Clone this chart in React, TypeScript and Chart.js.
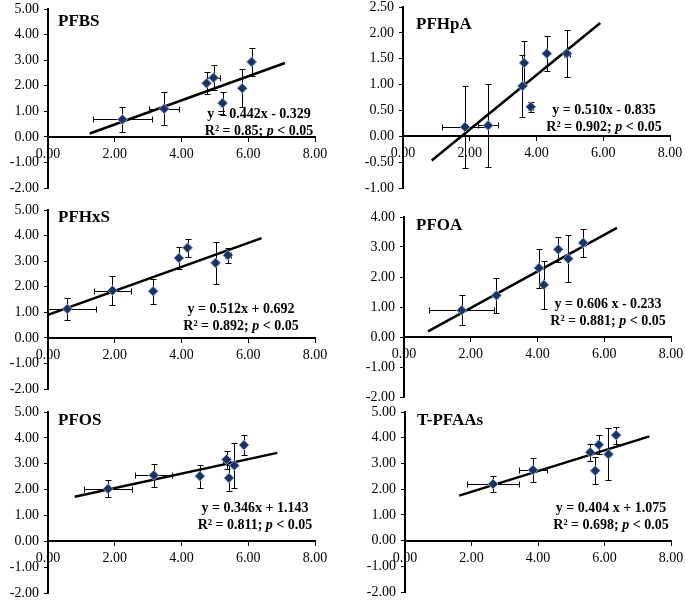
import React, { useEffect, useRef } from 'react';
import { Chart, registerables } from 'chart.js';

Chart.register(...registerables);

// ---------- DATA ----------
// PFBS
const pfbsX = [2.23, 3.48, 4.75, 4.96, 5.23, 5.82, 6.1];
const pfbsY = [0.68, 1.1, 2.1, 2.31, 1.32, 1.9, 2.93];
const pfbsXErr = [0.88, 0.45, 0, 0.2, 0, 0, 0];
const pfbsYErr = [0.5, 0.65, 0.44, 0.49, 0.45, 0.75, 0.55];
const pfbsLineX = [1.25, 7.1];
const pfbsLineY = [0.13, 2.89];

// PFHpA
const pfhpaX = [1.86, 2.55, 3.58, 3.63, 3.83, 4.31, 4.91];
const pfhpaY = [0.18, 0.21, 0.97, 1.42, 0.57, 1.6, 1.6];
const pfhpaXErr = [0.68, 0.3, 0, 0, 0.08, 0, 0.1];
const pfhpaYErr = [0.8, 0.8, 0.6, 0.42, 0.1, 0.33, 0.46];
const pfhpaLineX = [0.86, 5.91];
const pfhpaLineY = [-0.47, 2.19];

// PFHxS
const pfhxsX = [0.58, 1.93, 3.15, 3.92, 4.18, 5.02, 5.39];
const pfhxsY = [1.13, 1.85, 1.82, 3.12, 3.52, 2.93, 3.23];
const pfhxsXErr = [0.87, 0.55, 0, 0, 0, 0, 0.1];
const pfhxsYErr = [0.43, 0.58, 0.5, 0.43, 0.35, 0.83, 0.3];
const pfhxsLineX = [0, 6.4];
const pfhxsLineY = [0.9, 3.9];

// PFOA
const pfoaX = [1.73, 2.77, 4.04, 4.19, 4.62, 4.92, 5.37];
const pfoaY = [0.89, 1.39, 2.3, 1.74, 2.92, 2.61, 3.14];
const pfoaXErr = [0.98, 0.05, 0, 0, 0, 0, 0];
const pfoaYErr = [0.5, 0.59, 0.65, 0.8, 0.42, 0.79, 0.47];
const pfoaLineX = [0.72, 6.38];
const pfoaLineY = [0.19, 3.64];

// PFOS
const pfosX = [1.8, 3.17, 4.55, 5.35, 5.42, 5.58, 5.87];
const pfosY = [2.03, 2.55, 2.52, 3.16, 2.45, 2.93, 3.72];
const pfosXErr = [0.72, 0.55, 0, 0.1, 0, 0, 0];
const pfosYErr = [0.33, 0.44, 0.44, 0.35, 0.5, 0.87, 0.4];
const pfosLineX = [0.8, 6.87];
const pfosLineY = [1.72, 3.42];

// T-PFAAs
const tpfaasX = [2.65, 3.85, 5.57, 5.72, 5.83, 6.12, 6.35];
const tpfaasY = [2.2, 2.74, 3.43, 2.72, 3.73, 3.36, 4.1];
const tpfaasXErr = [0.78, 0.41, 0.05, 0, 0, 0, 0];
const tpfaasYErr = [0.32, 0.47, 0.34, 0.53, 0.36, 1.0, 0.33];
const tpfaasLineX = [1.63, 7.35];
const tpfaasLineY = [1.75, 4.05];

// Axis ticks
const xTickMin = 0;
const xTickMax = 8;
const xTickStep = 2;

const titles = ['PFBS', 'PFHpA', 'PFHxS', 'PFOA', 'PFOS', 'T-PFAAs'];
const equations = [
  'y = 0.442x - 0.329',
  'y = 0.510x - 0.835',
  'y = 0.512x + 0.692',
  'y = 0.606 x - 0.233',
  'y = 0.346x + 1.143',
  'y = 0.404 x + 1.075',
];
const r2Values = ['0.85', '0.902', '0.892', '0.881', '0.811', '0.698'];
const pText = '0.05';

// y ranges [min, max, step]
const yRanges = [
  [-2, 5, 1],
  [-1, 2.5, 0.5],
  [-2, 5, 1],
  [-2, 4, 1],
  [-2, 5, 1],
  [-2, 5, 1],
];

const seriesSets = [
  { x: pfbsX, y: pfbsY, xe: pfbsXErr, ye: pfbsYErr, lx: pfbsLineX, ly: pfbsLineY },
  { x: pfhpaX, y: pfhpaY, xe: pfhpaXErr, ye: pfhpaYErr, lx: pfhpaLineX, ly: pfhpaLineY },
  { x: pfhxsX, y: pfhxsY, xe: pfhxsXErr, ye: pfhxsYErr, lx: pfhxsLineX, ly: pfhxsLineY },
  { x: pfoaX, y: pfoaY, xe: pfoaXErr, ye: pfoaYErr, lx: pfoaLineX, ly: pfoaLineY },
  { x: pfosX, y: pfosY, xe: pfosXErr, ye: pfosYErr, lx: pfosLineX, ly: pfosLineY },
  { x: tpfaasX, y: tpfaasY, xe: tpfaasXErr, ye: tpfaasYErr, lx: tpfaasLineX, ly: tpfaasLineY },
];

// ---------- LAYOUT (pixels) ----------
const layouts = [
  { col: 0, l: 48, r: 315, t: 9, b: 188, title: [10, 13], eq: [211, 105] },
  { col: 343, l: 403, r: 670, t: 7, b: 188, title: [13, 18], eq: [201, 103] },
  { col: 0, l: 48, r: 315, t: 210, b: 389, title: [10, 8], eq: [193, 99] },
  { col: 343, l: 404, r: 671, t: 217, b: 397, title: [12, 9], eq: [204, 87] },
  { col: 0, l: 48, r: 315, t: 412, b: 593, title: [10, 9], eq: [207, 96] },
  { col: 343, l: 405, r: 671, t: 412, b: 592, title: [12, 9], eq: [206, 96] },
];

const PAD_T = 18;
const PAD_B = 18;
const PAD_R = 26;
const FONT = '"Liberation Serif", "Times New Roman", serif';

function Panel({ idx }: { idx: number }) {
  const ref = useRef<HTMLCanvasElement | null>(null);
  const L = layouts[idx];
  const W = L.r - L.col + PAD_R;
  const H = L.b - L.t + PAD_T + PAD_B;

  useEffect(() => {
    if (!ref.current) return;
    const s = seriesSets[idx];
    const [ymin, ymax, ystep] = yRanges[idx];

    const errorBars = {
      id: 'errorBars' + idx,
      beforeDatasetsDraw(chart: any) {
        const { ctx, chartArea } = chart;
        const xs = chart.scales.x;
        const ys = chart.scales.y;
        ctx.save();
        ctx.beginPath();
        ctx.rect(chartArea.left, chartArea.top - 5, chartArea.right - chartArea.left + 5, chartArea.bottom - chartArea.top + 5);
        ctx.clip();
        ctx.strokeStyle = '#000';
        ctx.lineWidth = 1;
        const cap = 3;
        s.x.forEach((xv: number, i: number) => {
          const px = Math.round(xs.getPixelForValue(xv)) + 0.5;
          const py = Math.round(ys.getPixelForValue(s.y[i])) + 0.5;
          const ye = s.ye[i];
          if (ye > 0) {
            const y1 = Math.round(ys.getPixelForValue(s.y[i] + ye)) + 0.5;
            const y2 = Math.round(ys.getPixelForValue(s.y[i] - ye)) + 0.5;
            ctx.beginPath();
            ctx.moveTo(px, y1);
            ctx.lineTo(px, y2);
            ctx.moveTo(px - cap, y1);
            ctx.lineTo(px + cap, y1);
            ctx.moveTo(px - cap, y2);
            ctx.lineTo(px + cap, y2);
            ctx.stroke();
          }
          const xe = s.xe[i];
          if (xe > 0) {
            const x1 = Math.round(xs.getPixelForValue(s.x[i] - xe)) + 0.5;
            const x2 = Math.round(xs.getPixelForValue(s.x[i] + xe)) + 0.5;
            ctx.beginPath();
            ctx.moveTo(x1, py);
            ctx.lineTo(x2, py);
            ctx.moveTo(x1, py - cap);
            ctx.lineTo(x1, py + cap);
            ctx.moveTo(x2, py - cap);
            ctx.lineTo(x2, py + cap);
            ctx.stroke();
          }
        });
        ctx.restore();
      },
    };

    const annotations = {
      id: 'annot' + idx,
      afterDraw(chart: any) {
        const { ctx, chartArea } = chart;
        ctx.save();
        ctx.fillStyle = '#000';
        ctx.textBaseline = 'middle';
        ctx.font = 'bold 17px ' + FONT;
        ctx.textAlign = 'left';
        ctx.fillText(titles[idx], chartArea.left + L.title[0], chartArea.top + L.title[1]);
        const cx = chartArea.left + L.eq[0];
        const cy = chartArea.top + L.eq[1];
        ctx.font = 'bold 14px ' + FONT;
        ctx.textAlign = 'center';
        ctx.fillText(equations[idx], cx, cy);
        const seg1 = 'R\u00B2 = ' + r2Values[idx] + '; ';
        const seg2 = 'p';
        const seg3 = ' < ' + pText;
        const bold = 'bold 14px ' + FONT;
        const boldIt = 'italic bold 14px ' + FONT;
        ctx.font = bold;
        const w1 = ctx.measureText(seg1).width;
        const w3 = ctx.measureText(seg3).width;
        ctx.font = boldIt;
        const w2 = ctx.measureText(seg2).width;
        const total = w1 + w2 + w3;
        let x0 = cx - total / 2;
        const y2 = cy + 17;
        ctx.textAlign = 'left';
        ctx.font = bold;
        ctx.fillText(seg1, x0, y2);
        x0 += w1;
        ctx.font = boldIt;
        ctx.fillText(seg2, x0, y2);
        x0 += w2;
        ctx.font = bold;
        ctx.fillText(seg3, x0, y2);
        ctx.restore();
      },
    };

    const tickFont = { family: FONT, size: 14 };
    const chart = new Chart(ref.current, {
      type: 'scatter',
      data: {
        datasets: [
          {
            type: 'scatter',
            data: s.x.map((xv: number, i: number) => ({ x: xv, y: s.y[i] })),
            pointStyle: 'rectRot',
            pointRadius: 5,
            pointHoverRadius: 5,
            backgroundColor: '#1b3360',
            borderColor: '#8aa6d2',
            borderWidth: 1,
            order: 1,
          },
          {
            type: 'line',
            data: s.lx.map((xv: number, i: number) => ({ x: xv, y: s.ly[i] })),
            borderColor: '#000',
            borderWidth: 2.5,
            pointRadius: 0,
            fill: false,
            showLine: true,
            order: 2,
          },
        ],
      } as any,
      options: {
        animation: false,
        responsive: false,
        devicePixelRatio: 1,
        events: [],
        layout: { padding: { left: 0, top: PAD_T, right: PAD_R, bottom: PAD_B } },
        plugins: { legend: { display: false }, tooltip: { enabled: false }, title: { display: false } },
        scales: {
          x: {
            type: 'linear',
            position: { y: 0 } as any,
            min: xTickMin,
            max: xTickMax,
            ticks: {
              stepSize: xTickStep,
              color: '#000',
              font: tickFont,
              padding: 5,
              maxRotation: 0,
              autoSkip: false,
              callback: (v: any) => Number(v).toFixed(2),
            },
            grid: { drawOnChartArea: false, color: '#000', tickLength: 4, lineWidth: 1 },
            border: { display: true, color: '#000', width: 2 },
          },
          y: {
            type: 'linear',
            position: 'left',
            min: ymin,
            max: ymax,
            afterFit: (scale: any) => {
              scale.width = L.l - L.col;
            },
            ticks: {
              stepSize: ystep,
              color: '#000',
              font: tickFont,
              padding: 5,
              autoSkip: false,
              callback: (v: any) => Number(v).toFixed(2),
            },
            grid: { drawOnChartArea: false, color: '#000', tickLength: 4, lineWidth: 1 },
            border: { display: true, color: '#000', width: 2 },
          },
        },
      } as any,
      plugins: [errorBars, annotations],
    });
    return () => chart.destroy();
  }, [idx]);

  return (
    <canvas
      ref={ref}
      width={W}
      height={H}
      style={{ position: 'absolute', left: L.col, top: L.t - PAD_T, width: W, height: H }}
    />
  );
}

export default function App() {
  return (
    <div
      style={{
        position: 'absolute',
        left: 0,
        top: 0,
        width: 685,
        height: 600,
        overflow: 'hidden',
        background: '#fff',
      }}
    >
      {layouts.map((_, i) => (
        <Panel key={i} idx={i} />
      ))}
    </div>
  );
}
